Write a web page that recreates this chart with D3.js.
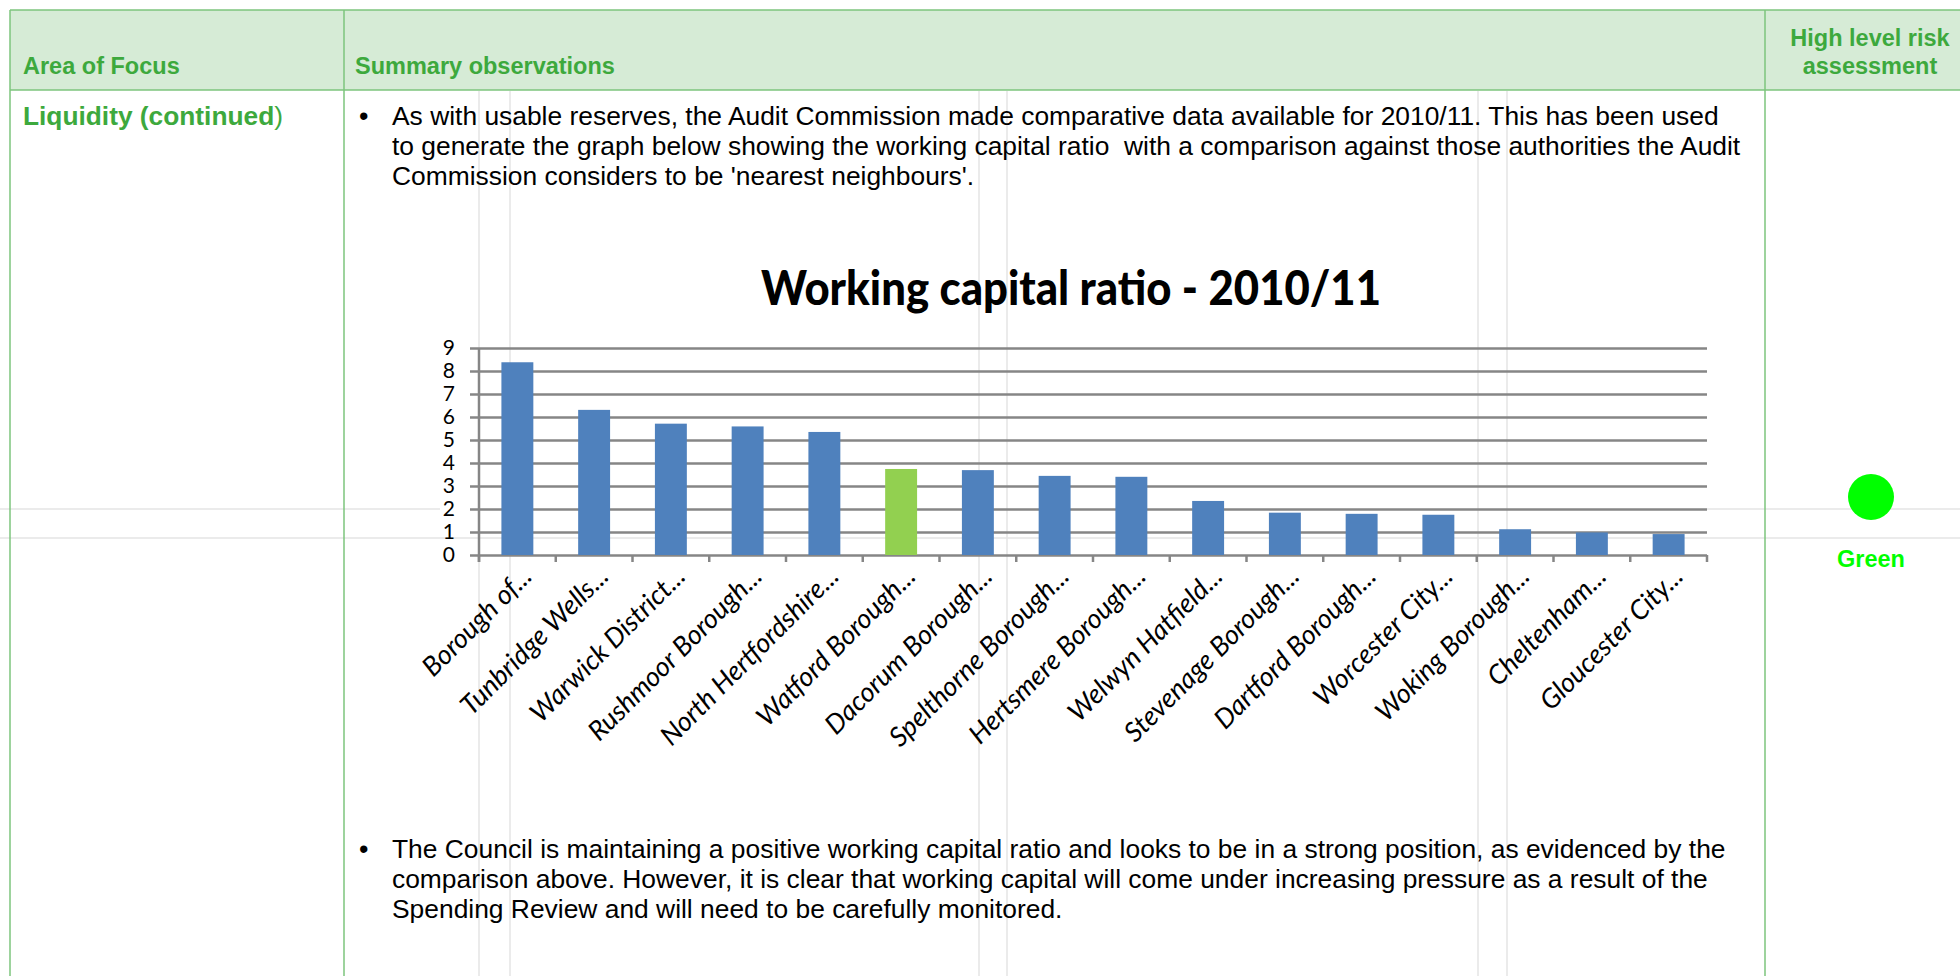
<!DOCTYPE html>
<html>
<head>
<meta charset="utf-8">
<script src="https://cdn.jsdelivr.net/npm/d3@7"></script>
<style>
  body { margin: 0; background: #fff; }
  svg text { white-space: pre; }
</style>
</head>
<body>
<div id="page"></div>
<script>
// chart data
const categories = ["Borough of...", "Tunbridge Wells...", "Warwick District...", "Rushmoor Borough...",
    "North Hertfordshire...", "Watford Borough...", "Dacorum Borough...", "Spelthorne Borough...",
    "Hertsmere Borough...", "Welwyn Hatfield...", "Stevenage Borough...", "Dartford Borough...",
    "Worcester City...", "Woking Borough...", "Cheltenham...", "Gloucester City..."];
const ratios = [8.38, 6.31, 5.71, 5.59, 5.35, 3.74, 3.69, 3.44, 3.40, 2.35, 1.84, 1.79, 1.75, 1.12, 0.98, 0.91];
const highlighted = "Watford Borough...";
const yTicks = [0, 1, 2, 3, 4, 5, 6, 7, 8, 9];
const chartTitle = "Working capital ratio - 2010/11";

// page text
const headers = ["Area of Focus", "Summary observations"];
const riskHeader = ["High level risk", "assessment"];
const topLines = [
    "As with usable reserves, the Audit Commission made comparative data available for 2010/11. This has been used",
    "to generate the graph below showing the working capital ratio  with a comparison against those authorities the Audit",
    "Commission considers to be 'nearest neighbours'."
];
const bottomLines = [
    "The Council is maintaining a positive working capital ratio and looks to be in a strong position, as evidenced by the",
    "comparison above. However, it is clear that working capital will come under increasing pressure as a result of the",
    "Spending Review and will need to be carefully monitored."
];

const width = 1960, height = 976;
const green = "#3da93d", border = "#7cc47c", faint = "#e4e4e4";

const svg = d3.select("#page").append("svg")
    .attr("width", width)
    .attr("height", height);

// header band
svg.append("rect")
    .attr("x", 10).attr("y", 10)
    .attr("width", width - 10).attr("height", 80)
    .attr("fill", "#d6ebd6");

// faint guide lines behind everything
const guides = svg.append("g").attr("stroke", faint).attr("stroke-width", 1.5);
[479, 510, 979, 1007, 1478, 1507].forEach(x => {
    guides.append("line").attr("x1", x).attr("x2", x).attr("y1", 91).attr("y2", height);
});
guides.append("line").attr("x1", 0).attr("x2", 440).attr("y1", 509).attr("y2", 509);
guides.append("line").attr("x1", 1707).attr("x2", width).attr("y1", 509).attr("y2", 509);
guides.append("line").attr("x1", 0).attr("x2", width).attr("y1", 538).attr("y2", 538);

// table borders
const grid = svg.append("g").attr("stroke", border).attr("stroke-width", 1.5);
grid.append("line").attr("x1", 10).attr("x2", width).attr("y1", 10).attr("y2", 10);
grid.append("line").attr("x1", 10).attr("x2", width).attr("y1", 90).attr("y2", 90);
[10, 344, 1765].forEach(x => {
    grid.append("line").attr("x1", x).attr("x2", x).attr("y1", 10).attr("y2", height);
});

// header text
const headFont = "'Liberation Sans', Arial, sans-serif";
svg.selectAll("text.head")
    .data(headers)
    .join("text")
    .attr("class", "head")
    .attr("x", (d, i) => i === 0 ? 23 : 355)
    .attr("y", 74)
    .attr("font-family", headFont)
    .attr("font-weight", "bold")
    .attr("font-size", 23.5)
    .attr("fill", green)
    .text(d => d);

svg.selectAll("text.risk")
    .data(riskHeader)
    .join("text")
    .attr("class", "risk")
    .attr("x", 1870)
    .attr("y", (d, i) => 46 + i * 28)
    .attr("text-anchor", "middle")
    .attr("font-family", headFont)
    .attr("font-weight", "bold")
    .attr("font-size", 23.5)
    .attr("fill", green)
    .text(d => d);

const liq = svg.append("text")
    .attr("x", 23).attr("y", 125)
    .attr("font-family", headFont)
    .attr("font-size", 26.3)
    .attr("fill", green);
liq.append("tspan").attr("font-weight", "bold").text("Liquidity (continued");
liq.append("tspan").text(")");

// body paragraphs
function paragraph(lines, y0) {
    svg.append("text")
        .attr("x", 359).attr("y", y0)
        .attr("font-family", headFont)
        .attr("font-size", 27)
        .text("\u2022");
    svg.append("g").selectAll("text")
        .data(lines)
        .join("text")
        .attr("x", 392)
        .attr("y", (d, i) => y0 + i * 30.2)
        .attr("font-family", headFont)
        .attr("font-size", 26.4)
        .attr("fill", "#000")
        .text(d => d);
}
paragraph(topLines, 125);
paragraph(bottomLines, 858);

// risk marker
svg.append("circle").attr("cx", 1871).attr("cy", 497).attr("r", 23).attr("fill", "#00ff00");
svg.append("text")
    .attr("x", 1871).attr("y", 567)
    .attr("text-anchor", "middle")
    .attr("font-family", headFont)
    .attr("font-weight", "bold")
    .attr("font-size", 23.5)
    .attr("fill", "#00ff00")
    .text("Green");

// ---- bar chart ----
const chartFont = "Lato, 'Open Sans', sans-serif";
const x = d3.scaleBand()
    .domain(categories)
    .range([479, 1707])
    .paddingInner(0.584)
    .paddingOuter(0.292);
const y = d3.scaleLinear()
    .domain([0, 9])
    .range([555, 348]);

const chart = svg.append("g");

chart.append("text")
    .attr("x", 1071).attr("y", 305)
    .attr("text-anchor", "middle")
    .attr("font-family", chartFont)
    .attr("font-weight", 900)
    .attr("font-size", 48)
    .attr("textLength", 620)
    .attr("lengthAdjust", "spacingAndGlyphs")
    .attr("fill", "#000")
    .text(chartTitle);

// gridlines + y labels
chart.append("g")
    .attr("transform", "translate(479,0)")
    .call(d3.axisLeft(y).tickValues(yTicks).tickSize(-(1707 - 479)).tickFormat(d3.format("d")))
    .call(g => g.select(".domain").remove())
    .call(g => g.selectAll(".tick line")
        .attr("x1", -9)
        .attr("stroke", "#868686")
        .attr("stroke-width", 2.5))
    .call(g => g.selectAll(".tick text")
        .attr("x", -24)
        .attr("font-family", chartFont)
        .attr("font-size", 21)
        .attr("fill", "#000"));

// y axis line
chart.append("line")
    .attr("x1", 479).attr("x2", 479)
    .attr("y1", y(9)).attr("y2", 562)
    .attr("stroke", "#868686").attr("stroke-width", 2.5);

// category boundary ticks
const boundaries = d3.range(categories.length + 1);
chart.append("g").selectAll("line")
    .data(boundaries)
    .join("line")
    .attr("x1", i => 479 + i * x.step())
    .attr("x2", i => 479 + i * x.step())
    .attr("y1", y(0)).attr("y2", 562)
    .attr("stroke", "#868686").attr("stroke-width", 2.5);

// bars
chart.append("g").selectAll("rect")
    .data(categories)
    .join("rect")
    .attr("x", d => x(d))
    .attr("width", x.bandwidth())
    .attr("y", (d, i) => y(ratios[i]))
    .attr("height", (d, i) => y(0) - y(ratios[i]))
    .attr("fill", d => d === highlighted ? "#92d050" : "#4f81bd");

// x labels
chart.append("g").selectAll("text")
    .data(categories)
    .join("text")
    .attr("transform", d => `translate(${x(d) + x.bandwidth() / 2 + 16},578) rotate(-45)`)
    .attr("text-anchor", "end")
    .attr("font-family", chartFont)
    .attr("font-style", "italic")
    .attr("font-size", 27)
    .attr("fill", "#000")
    .text(d => d);
</script>
</body>
</html>
